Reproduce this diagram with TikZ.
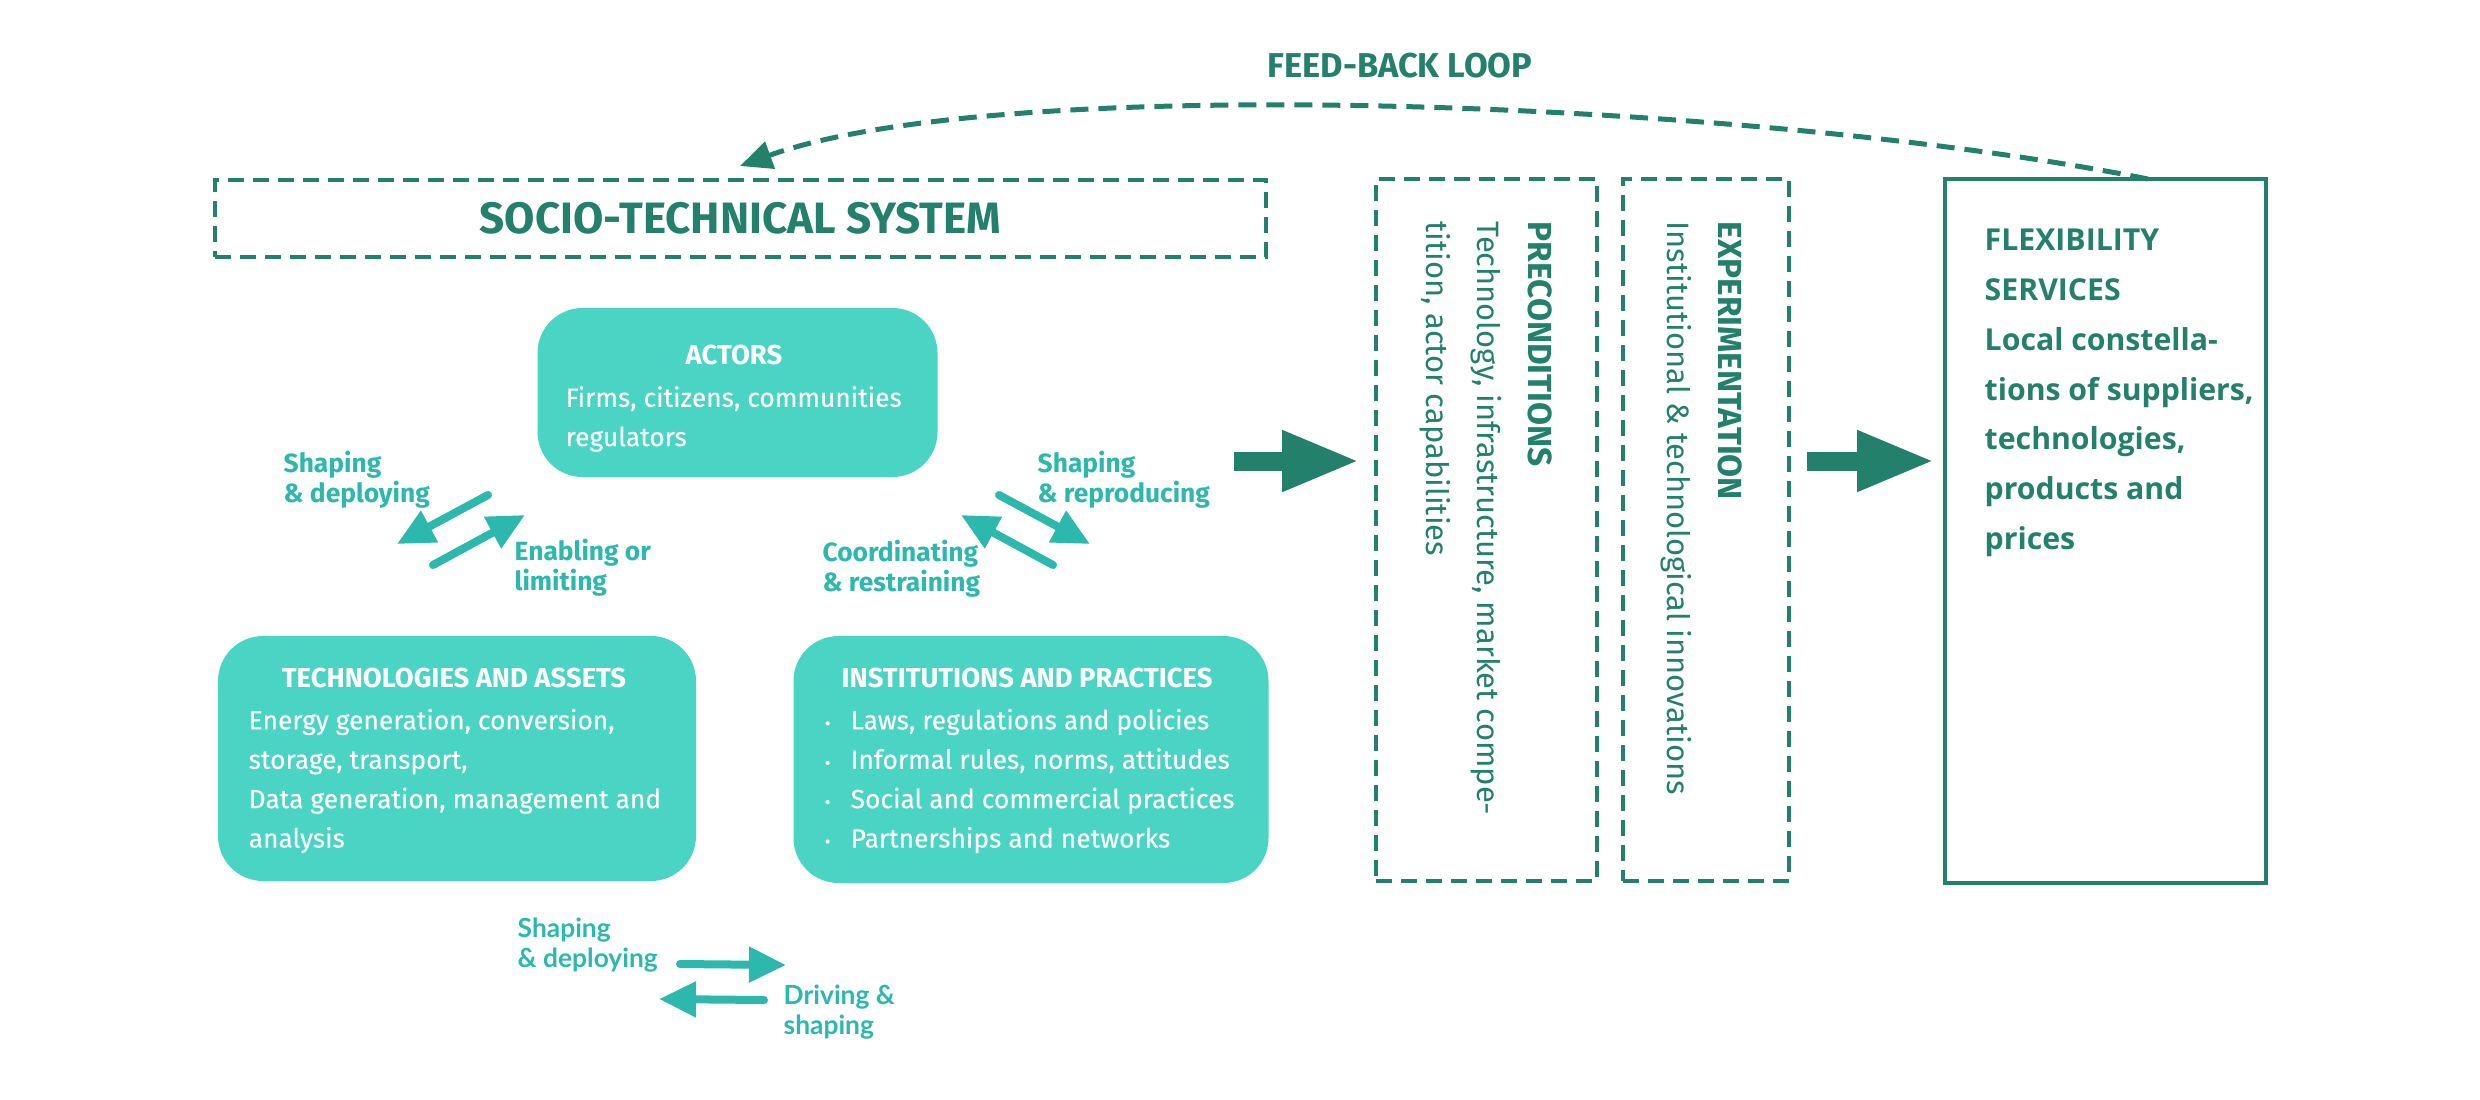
\documentclass[tikz,border=0pt]{standalone}
\usepackage{fontspec}
\setmainfont{Fira Sans}
\newfontfamily\bodyfont{Fira Sans}[FakeBold=0.3]
\newfontfamily\lowlabelfont{Lato}
\newfontfamily\flexfont{Open Sans}
\usetikzlibrary{arrows.meta}

\definecolor{stsgreen}{RGB}{35,128,107}
\definecolor{boxteal}{RGB}{74,212,196}
\definecolor{arrowteal}{RGB}{44,184,172}

\newcommand{\instdot}{\makebox[2.6mm][l]{\fontsize{5}{5}\selectfont •}}

\tikzset{
  dashbox/.style={draw=stsgreen, line width=0.4mm, dash pattern=on 1.6mm off 0.9mm, inner sep=0pt},
  tealbox/.style={fill=boxteal, rounded corners=4.5mm, inner sep=0pt},
  boxhead/.style={text=white, font=\bfseries\fontsize{7.8}{9}\selectfont, inner sep=0pt},
  boxbody/.style={text=white, font=\bodyfont\fontsize{7.5}{11.2}\selectfont, align=left, anchor=west, inner sep=0pt},
  flowlabel/.style={text=arrowteal, font=\bfseries\fontsize{7.5}{8.5}\selectfont, align=left, anchor=west, inner sep=0pt},
  lowlabel/.style={flowlabel, font=\lowlabelfont\bfseries\fontsize{7.5}{8.5}\selectfont},
  flowarrow/.style={draw=arrowteal, line width=0.8mm, line cap=round, -{Triangle[length=3.7mm,width=3.4mm]}},
  bigarrow/.style={draw=stsgreen, line width=1.9mm, -{Triangle[length=7.8mm,width=5.6mm]}},
  sidetext/.style={text=stsgreen, font=\fontsize{8.8}{14.5}\selectfont, align=left, rotate=-90, anchor=north west, inner sep=0pt},
}

\begin{document}
\begin{tikzpicture}
\useasboundingbox (0,0) rectangle (24.8,-10.99);

% feed-back loop
\node[text=stsgreen, font=\bfseries\fontsize{9.8}{12}\selectfont] (fblabel) at (14.00,-0.66) {FEED-BACK LOOP};
\coordinate (fbstart) at (21.48,-1.79);
\coordinate (fbend) at (7.40,-1.66);
\draw[stsgreen, line width=0.5mm, dash pattern=on 1.8mm off 1mm, -{Triangle[length=3.2mm,width=2.8mm]}]
  (fbstart) .. controls (17.5,-1.00) and (10.0,-0.72) .. (fbend);

% socio-technical system
\node[dashbox, minimum width=10.51cm, minimum height=0.77cm, text=stsgreen, font=\bfseries\fontsize{12.5}{14}\selectfont] (sts) at (7.405,-2.185) {SOCIO-TECHNICAL SYSTEM};

\node[tealbox, minimum width=4.0cm, minimum height=1.69cm] (actors) at (7.375,-3.925) {};
\node[boxhead] (actorshead) at (7.34,-3.55) {ACTORS};
\node[boxbody] (actorsbody) at (5.65,-4.19) {Firms, citizens, communities\\regulators};

\node[tealbox, minimum width=4.78cm, minimum height=2.45cm] (tech) at (4.57,-7.585) {};
\node[boxhead] (techhead) at (4.54,-6.78) {TECHNOLOGIES AND ASSETS};
\node[boxbody] (techbody) at (2.48,-7.81) {Energy generation, conversion,\\storage, transport,\\Data generation, management and\\analysis};

\node[tealbox, minimum width=4.75cm, minimum height=2.47cm] (inst) at (10.31,-7.595) {};
\node[boxhead] (insthead) at (10.27,-6.78) {INSTITUTIONS AND PRACTICES};
\node[boxbody] (instbody) at (8.24,-7.81) {\instdot Laws, regulations and policies\\\instdot Informal rules, norms, attitudes\\\instdot Social and commercial practices\\\instdot Partnerships and networks};

% interactions
\node[flowlabel] (shapedeploy) at (2.83,-4.80) {Shaping\\\& deploying};
\node[flowlabel] (enablelimit) at (5.14,-5.68) {Enabling or\\limiting};
\node[flowlabel] (shapereprod) at (10.37,-4.80) {Shaping\\\& reproducing};
\node[flowlabel] (coordrestr) at (8.22,-5.69) {Coordinating\\\& restraining};
\node[lowlabel] (lowshape) at (5.17,-9.45) {Shaping\\\& deploying};
\node[lowlabel] (lowdrive) at (7.83,-10.12) {Driving \&\\shaping};

\coordinate (a1) at (4.88,-4.95); \coordinate (a2) at (3.97,-5.44);
\coordinate (b1) at (4.33,-5.65); \coordinate (b2) at (5.25,-5.15);
\coordinate (c1) at (9.99,-4.95); \coordinate (c2) at (10.90,-5.44);
\coordinate (d1) at (10.53,-5.65); \coordinate (d2) at (9.61,-5.15);
\coordinate (e1) at (6.80,-9.64); \coordinate (e2) at (7.86,-9.65);
\coordinate (f1) at (7.64,-10.00); \coordinate (f2) at (6.59,-9.99);
\draw[flowarrow] (a1) -- (a2);
\draw[flowarrow] (b1) -- (b2);
\draw[flowarrow] (c1) -- (c2);
\draw[flowarrow] (d1) -- (d2);
\draw[flowarrow] (e1) -- (e2);
\draw[flowarrow] (f1) -- (f2);

% preconditions and experimentation
\node[dashbox, minimum width=2.21cm, minimum height=7.02cm] (precond) at (14.865,-5.30) {};
\node[sidetext] (precondtext) at (15.53,-2.21) {{\bfseries\fontsize{9.5}{14.5}\selectfont PRECONDITIONS}\\Technology, infrastructure, market compe-\\tition, actor capabilities};
\node[dashbox, minimum width=1.66cm, minimum height=7.02cm] (exper) at (17.06,-5.30) {};
\node[sidetext] (expertext) at (17.43,-2.21) {{\bfseries\fontsize{9.5}{14.5}\selectfont EXPERIMENTATION}\\Institutional \& technological innovations};

\coordinate (big1s) at (12.34,-4.61); \coordinate (big1e) at (13.60,-4.61);
\coordinate (big2s) at (18.07,-4.61); \coordinate (big2e) at (19.35,-4.61);
\draw[bigarrow] (big1s) -- (big1e);
\draw[bigarrow] (big2s) -- (big2e);

% flexibility services
\node[draw=stsgreen, line width=0.45mm, minimum width=3.21cm, minimum height=7.04cm, inner sep=0pt] (flex) at (21.055,-5.31) {};
\node[text=stsgreen, font=\flexfont\bfseries\fontsize{8.6}{14.2}\selectfont, align=left, anchor=north west, inner sep=0pt] (flextext) at (19.84,-2.28) {FLEXIBILITY\\SERVICES\\Local constella-\\tions of suppliers,\\technologies,\\products and\\prices};
\end{tikzpicture}
\end{document}
